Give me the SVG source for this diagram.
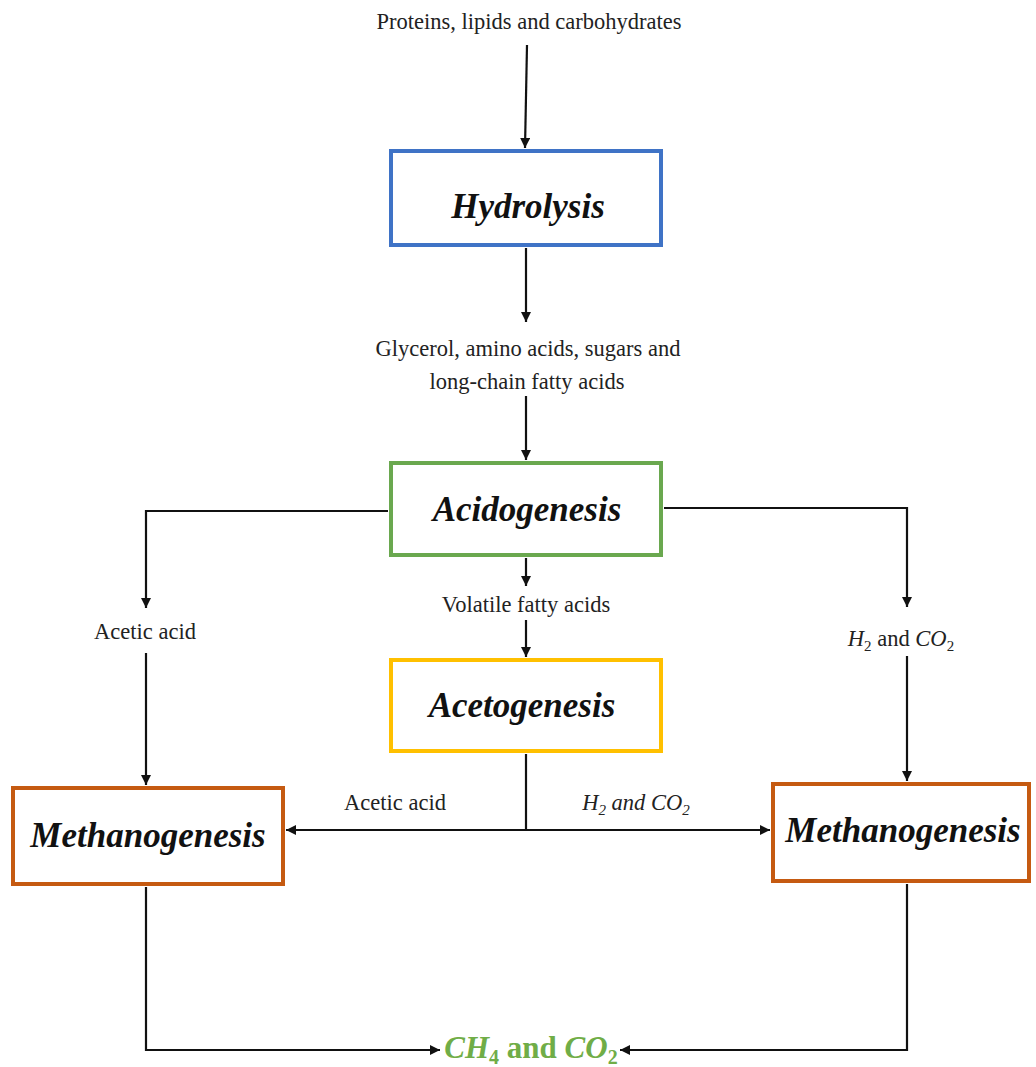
<svg xmlns="http://www.w3.org/2000/svg" width="1036" height="1067" viewBox="0 0 1036 1067">
<defs>
<marker id="ah" viewBox="0 0 10 10" refX="10" refY="5" markerWidth="11" markerHeight="10" markerUnits="userSpaceOnUse" orient="auto">
<path d="M0,0 L10,5 L0,10 z" fill="#111"/>
</marker>
<style>
.lbl{font-family:"Liberation Serif",serif;font-size:22.5px;fill:#222;text-anchor:middle}
.ttl{font-family:"Liberation Serif",serif;font-size:35px;font-weight:bold;font-style:italic;fill:#111;text-anchor:middle}
.box{fill:#fff;stroke-width:4}
.con{fill:none;stroke:#111;stroke-width:2.2}
.it{font-style:italic}
</style>
</defs>
<rect width="1036" height="1067" fill="#fff"/>
<g id="connectors">
<path class="con" d="M527,45 L525,148" marker-end="url(#ah)"/>
<path class="con" d="M526,248 L526,322" marker-end="url(#ah)"/>
<path class="con" d="M526,396 L526,460" marker-end="url(#ah)"/>
<path class="con" d="M388,511 L146,511 L146,608" marker-end="url(#ah)"/>
<path class="con" d="M146,653 L146,785" marker-end="url(#ah)"/>
<path class="con" d="M664,508 L907,508 L907,607" marker-end="url(#ah)"/>
<path class="con" d="M907,656 L907,781" marker-end="url(#ah)"/>
<path class="con" d="M526,558 L526,586" marker-end="url(#ah)"/>
<path class="con" d="M526,620 L526,657" marker-end="url(#ah)"/>
<path class="con" d="M526,754 L526,830"/>
<path class="con" d="M526,830 L286,830" marker-end="url(#ah)"/>
<path class="con" d="M526,830 L770,830" marker-end="url(#ah)"/>
<path class="con" d="M146,887 L146,1050 L440,1050" marker-end="url(#ah)"/>
<path class="con" d="M907,884 L907,1050 L620,1050" marker-end="url(#ah)"/>
</g>
<g id="input"><text class="lbl" x="529" y="29">Proteins, lipids and carbohydrates</text></g>
<g id="hydrolysis">
<rect class="box" x="391" y="151" width="270" height="94" stroke="#3f73c6"/>
<text class="ttl" x="528" y="218">Hydrolysis</text>
</g>
<g id="monomers">
<text class="lbl" x="528" y="356">Glycerol, amino acids, sugars and</text>
<text class="lbl" x="527" y="389">long-chain fatty acids</text>
</g>
<g id="acidogenesis">
<rect class="box" x="391" y="463" width="270" height="92" stroke="#6aa84f"/>
<text class="ttl" x="527" y="521">Acidogenesis</text>
</g>
<g id="acetic-left"><text class="lbl" x="145" y="639">Acetic acid</text></g>
<g id="h2co2-right"><text class="lbl" x="901" y="646" font-size="24"><tspan class="it">H</tspan><tspan font-size="15" dy="5">2</tspan><tspan dy="-5"> and </tspan><tspan class="it">CO</tspan><tspan font-size="15" dy="5">2</tspan></text></g>
<g id="vfa"><text class="lbl" x="526" y="612">Volatile fatty acids</text></g>
<g id="acetogenesis">
<rect class="box" x="391" y="660" width="270" height="91" stroke="#ffc000"/>
<text class="ttl" x="522" y="717">Acetogenesis</text>
</g>
<g id="acetic-mid"><text class="lbl" x="395" y="810">Acetic acid</text></g>
<g id="h2co2-mid"><text class="lbl it" x="636" y="810" font-size="23">H<tspan font-size="15" dy="5">2</tspan><tspan dy="-5"> and CO</tspan><tspan font-size="15" dy="5">2</tspan></text></g>
<g id="methanogenesis-left">
<rect class="box" x="13" y="788" width="270" height="96" stroke="#c55a11"/>
<text class="ttl" x="148" y="847">Methanogenesis</text>
</g>
<g id="methanogenesis-right">
<rect class="box" x="773" y="784" width="256" height="97" stroke="#c55a11"/>
<text class="ttl" x="903" y="842">Methanogenesis</text>
</g>
<g id="products">
<text x="531" y="1058" font-family="Liberation Serif, serif" font-size="31" font-weight="bold" fill="#70ad47" text-anchor="middle"><tspan class="it">CH</tspan><tspan font-size="20" dy="6">4</tspan><tspan dy="-6"> and </tspan><tspan class="it">CO</tspan><tspan font-size="20" dy="6">2</tspan></text>
</g>
</svg>
